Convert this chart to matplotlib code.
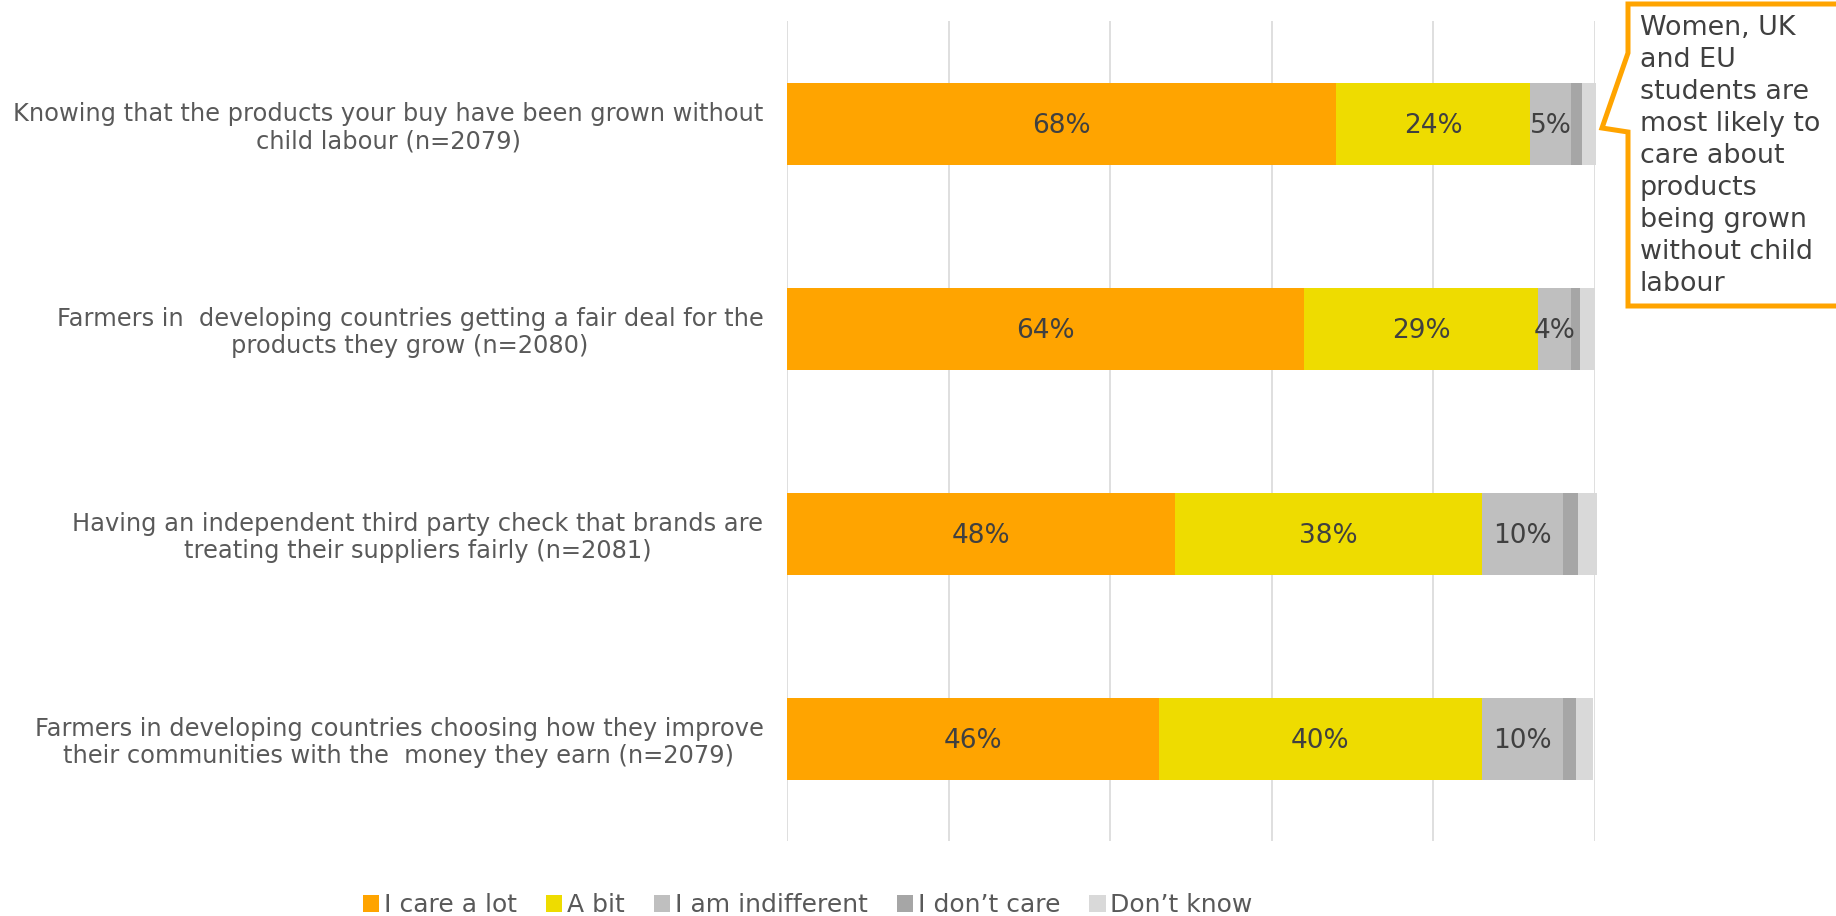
import matplotlib
matplotlib.use("Agg")
import matplotlib.pyplot as plt
import numpy as np
from matplotlib.patches import Patch, Polygon

plt.rcParams['font.family'] = ['DejaVu Sans']

# survey statements (top to bottom)
questions = [
    "Knowing that the products your buy have been grown without\nchild labour (n=2079)",
    "Farmers in  developing countries getting a fair deal for the\nproducts they grow (n=2080)",
    "Having an independent third party check that brands are\ntreating their suppliers fairly (n=2081)",
    "Farmers in developing countries choosing how they improve\ntheir communities with the  money they earn (n=2079)",
]

# shares in percent
care_a_lot = [68, 64, 48, 46]
a_bit = [24, 29, 38, 40]
indifferent = [5, 4, 10, 10]
dont_care = [1.4, 1.1, 1.9, 1.6]
dont_know = [1.7, 1.9, 2.4, 2.2]

series = [
    ("I care a lot", care_a_lot, "#FFA400", True),
    ("A bit", a_bit, "#EEDC00", True),
    ("I am indifferent", indifferent, "#BFBFBF", True),
    ("I don\u2019t care", dont_care, "#A6A6A6", False),
    ("Don\u2019t know", dont_know, "#D9D9D9", False),
]

callout = ("Women, UK\nand EU\nstudents are\nmost likely to\ncare about\nproducts\n"
           "being grown\nwithout child\nlabour")

W, H = 1836, 916
fig = plt.figure(figsize=(W / 100, H / 100), dpi=100)
ax = fig.add_axes([787 / W, 75 / H, 808 / W, 820 / H])

y = np.arange(len(questions))
left = np.zeros(len(questions))
handles = []
for name, vals, color, labelled in series:
    vals = np.array(vals, dtype=float)
    bars = ax.barh(y, vals, left=left, height=0.4, color=color, zorder=2, clip_on=False)
    if labelled:
        for b, v in zip(bars, vals):
            ax.text(b.get_x() + b.get_width() / 2, b.get_y() + b.get_height() / 2 + 0.01,
                    f"{v:.0f}%", ha="center", va="center", fontsize=19,
                    color="#404040", zorder=3)
    left += vals
    handles.append(Patch(facecolor=color, edgecolor="none", label=name))

ax.set_xlim(0, 100)
ax.set_ylim(3.5, -0.5)
ax.set_xticks(np.arange(0, 101, 20))
ax.set_xticklabels([])
ax.grid(axis="x", color="#D9D9D9", linewidth=1.2, zorder=0)
ax.tick_params(length=0)
for s in ax.spines.values():
    s.set_visible(False)

ax.set_yticks(y)
ax.set_yticklabels(questions, fontsize=17.4, color="#595959", linespacing=1.16)
ax.tick_params(axis="y", pad=17)
for t in ax.get_yticklabels():
    t.set_multialignment("center")

fig.legend(handles=handles, loc="center", bbox_to_anchor=(808 / W, 1 - 905 / H),
           ncol=5, frameon=False, fontsize=18, handlelength=0.65, handleheight=0.65,
           handletextpad=0.2, columnspacing=1.15, labelcolor="#595959")

# speech-bubble callout in the top right corner
px = lambda x, yy: (x / W, 1 - yy / H)
bubble = Polygon([px(1628, 4), px(1845, 4), px(1845, 306), px(1628, 306),
                  px(1628, 132), px(1602, 128), px(1628, 53)],
                 closed=True, transform=fig.transFigure, facecolor="white",
                 edgecolor="#FFA400", linewidth=3.6, joinstyle="miter", zorder=5)
fig.patches.append(bubble)
fig.text(1640 / W, 1 - 15 / H, callout, ha="left", va="top", fontsize=19.4,
         color="#404040", linespacing=1.3, zorder=6)

fig.savefig("out.png", dpi=100, facecolor="white")
